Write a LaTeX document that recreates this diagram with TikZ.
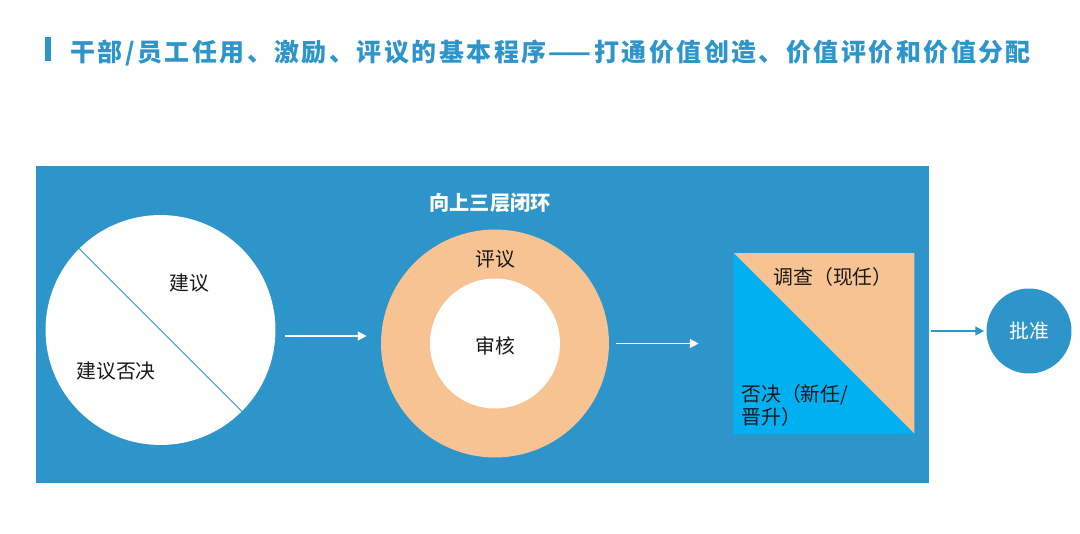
\documentclass[tikz,border=0pt]{standalone}
\usepackage{fontspec}
\setmainfont{Noto Sans CJK SC}
\usetikzlibrary{positioning, arrows.meta, calc}
\definecolor{panelblue}{HTML}{2E95CA}
\definecolor{ringorange}{HTML}{F8C393}
\definecolor{skycyan}{HTML}{00B0F0}

\begin{document}
\begin{tikzpicture}[x=0.02cm, y=-0.02cm,
  disc/.style={circle, draw=none, inner sep=0pt},
  stagetext/.style={font=\fontsize{11.3}{13}\selectfont, text=black!90, inner sep=0pt},
  arrow/.style={-{Triangle[length=5pt, width=5pt]}, white, line width=0.8pt}
]
\useasboundingbox (0,0) rectangle (1080,534);
\fill[white] (0,0) rectangle (1080,534);

% title
\node[fill=panelblue, minimum width=0.12cm, minimum height=0.48cm, inner sep=0pt] (bar) at (48,49) {};
\node[anchor=west, inner sep=0pt, text=panelblue,
  font=\fontsize{14.2}{16}\selectfont\bfseries\addfontfeature{LetterSpace=10}] (title) at (70,53)
  {干部/员工任用、激励、评议的基本程序——打通价值创造、价值评价和价值分配};

% panel
\node[fill=panelblue, minimum width=17.86cm, minimum height=6.34cm, inner sep=0pt] (panel) at (482.5,324.5) {};
\node[text=white, inner sep=0pt, font=\fontsize{11.5}{14}\selectfont\bfseries] (loop) at (490,203) {向上三层闭环};

% advise
\node[disc, fill=white, minimum size=4.6cm] (advise) at (160.5,330) {};
\draw[panelblue, line width=0.6pt] (advise.135) -- (advise.-45);
\node[stagetext] (adviseyes) at (189,283) {建议};
\node[stagetext] (adviseno) at (116,371) {建议否决};

% review
\node[disc, fill=ringorange, minimum size=4.56cm] (ring) at (495,343.5) {};
\node[disc, fill=white, minimum size=2.6cm] (audit) at (ring) {};
\node[stagetext] (audittext) at (495,346) {审核};
\node[stagetext] (review) at (495,259) {评议};

% check
\node[minimum size=3.6cm, inner sep=0pt] (check) at (824,343.5) {};
\fill[ringorange] (check.north west) -- (check.north east) -- (check.south east) -- cycle;
\fill[skycyan] (check.north west) -- (check.south west) -- (check.south east) -- cycle;
\node[stagetext] (survey) at (833,277) {调查（现任）};
\node[stagetext, anchor=west, align=left] (veto) at (741,405.5) {否决（新任/\\晋升）};

% approve
\node[disc, fill=panelblue, minimum size=1.7cm, text=white, font=\fontsize{11.3}{13}\selectfont] (approve) at (1029,331) {批准};

\draw[arrow] ([shift={(9,6)}]advise.east) -- ([shift={(-14,-7.5)}]ring.west);
\draw[arrow] ([shift={(7,0)}]ring.east) -- ([shift={(-35,0)}]check.west);
\draw[arrow, panelblue] ([shift={(2,0)}]panel.east |- approve.west) -- ([shift={(-2,0)}]approve.west);

\end{tikzpicture}
\end{document}
